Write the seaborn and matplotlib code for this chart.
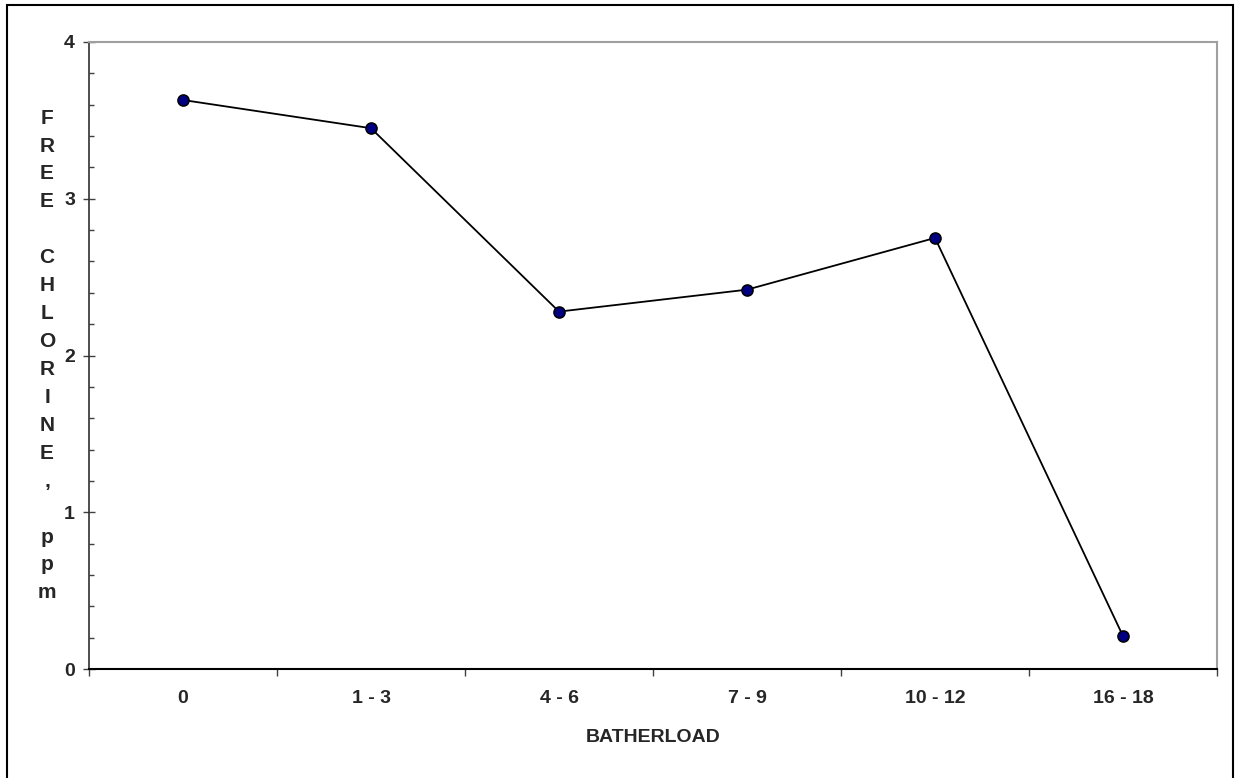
import numpy as np
import pandas as pd
import matplotlib.pyplot as plt
import seaborn as sns
from matplotlib.patches import Rectangle
from matplotlib.ticker import FixedLocator, FixedFormatter, NullFormatter, MultipleLocator

# Data
batherload = ['0', '1 - 3', '4 - 6', '7 - 9', '10 - 12', '16 - 18']
free_chlorine = [3.63, 3.45, 2.28, 2.42, 2.75, 0.21]

df = pd.DataFrame({'batherload': batherload, 'free_chlorine': free_chlorine})

# Style
sns.set_style('white')
plt.rcParams['font.family'] = ['Liberation Sans', 'DejaVu Sans']
plt.rcParams['font.weight'] = 'bold'

W, H = 1235, 778
fig = plt.figure(figsize=(W / 100, H / 100), dpi=100)
ax = fig.add_axes([89 / W, 1 - 669 / H, (1217 - 89) / W, (669 - 42) / H])

sns.lineplot(data=df, x='batherload', y='free_chlorine', sort=False, ax=ax,
             color='black', lw=1.3, marker='o', markersize=8,
             markerfacecolor='#000080', markeredgecolor='black', markeredgewidth=1.1)

n = len(batherload)
ax.set_xlim(-0.5, n - 0.5)
ax.set_ylim(0, 4)

# x axis: ticks between categories, labels centered on categories
ax.xaxis.set_major_locator(FixedLocator(np.arange(n + 1) - 0.5))
ax.xaxis.set_major_formatter(NullFormatter())
ax.xaxis.set_minor_locator(FixedLocator(np.arange(n)))
ax.xaxis.set_minor_formatter(FixedFormatter(batherload))
ax.tick_params(axis='x', which='major', bottom=True, direction='out', length=5,
               width=1, color='#404040')
ax.tick_params(axis='x', which='minor', bottom=True, length=0, pad=15, labelsize=14)

# y axis
ax.yaxis.set_major_locator(MultipleLocator(1))
ax.yaxis.set_minor_locator(MultipleLocator(0.2))
ax.tick_params(axis='y', which='major', left=True, direction='inout', length=8,
               width=1, color='#404040', pad=6, labelsize=14)
ax.tick_params(axis='y', which='minor', left=True, direction='in', length=3.5,
               width=1, color='#404040')

# Spines
ax.spines['left'].set_color('#303030')
ax.spines['left'].set_linewidth(1.2)
ax.spines['bottom'].set_color('black')
ax.spines['bottom'].set_linewidth(1.5)
for s in ['top', 'right']:
    ax.spines[s].set_color('#a0a0a0')
    ax.spines[s].set_linewidth(1.5)
ax.grid(False)

# Labels
ax.set_xlabel('BATHERLOAD', fontsize=14, fontweight='bold')
ax.xaxis.set_label_coords(0.5, (669 - 738) / (669 - 42))
ax.xaxis.label.set_va('center')

ax.set_ylabel('F\nR\nE\nE\n\nC\nH\nL\nO\nR\nI\nN\nE\n,\n\np\np\nm', rotation=0,
              fontsize=15, fontweight='bold', linespacing=1.595, ha='center', va='center')
ax.yaxis.set_label_coords((47 - 89) / (1217 - 89), 0.5)

# Chart border
fig.add_artist(Rectangle((7 / W, -0.01), (1233 - 7) / W, 1.01 - 5 / H,
                         transform=fig.transFigure, fill=False, ec='black', lw=1.5))

fig.savefig('out.png', dpi=100)
